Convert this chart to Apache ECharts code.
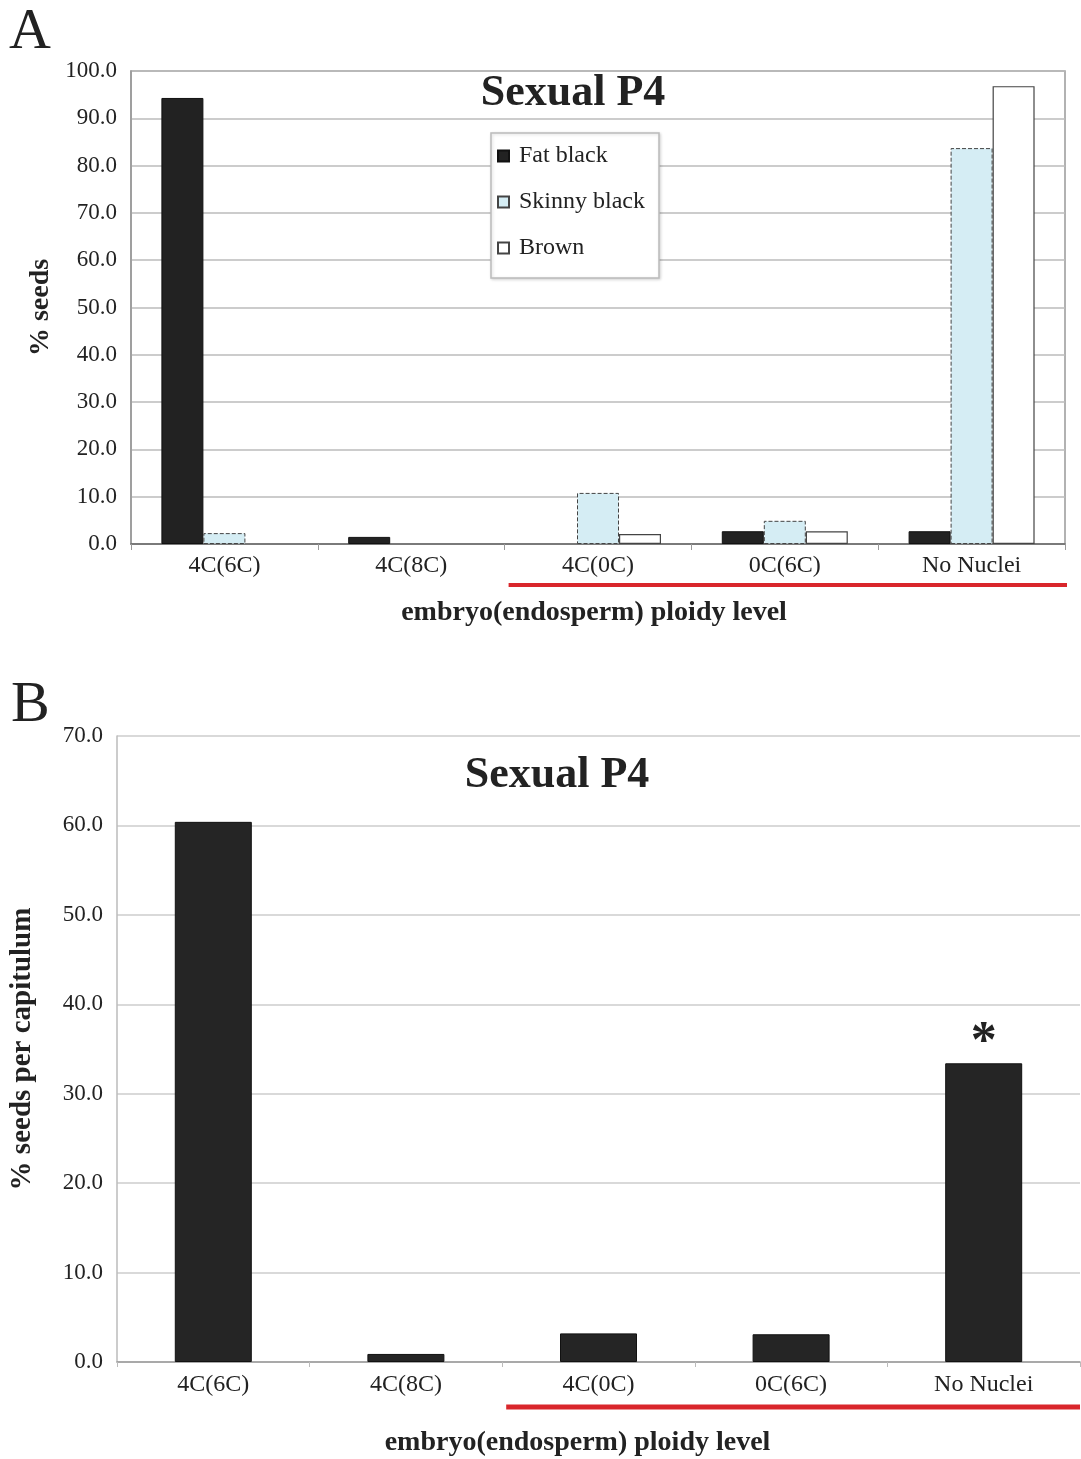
<!DOCTYPE html>
<html>
<head>
<meta charset="utf-8">
<script src="https://cdn.jsdelivr.net/npm/echarts@6/dist/echarts.min.js"></script>
<style>
  html, body { margin: 0; padding: 0; background: #fff; }
  #main { width: 1081px; height: 1459px; }
</style>
</head>
<body>
<div id="main"></div>
<script>
// categories shared by both panels
var categories = ['4C(6C)', '4C(8C)', '4C(0C)', '0C(6C)', 'No Nuclei'];
// panel A: % seeds by seed type
var fatBlack = [94.3, 1.5, 0, 2.7, 2.7];
var skinnyBlack = [2.3, 0, 10.8, 4.9, 83.7];
var brown = [0, 0, 2.1, 2.7, 96.8];
// panel B: % seeds per capitulum
var perCapitulum = [60.4, 0.9, 3.2, 3.1, 33.4];
var starIndex = 4;

var serif = '"Liberation Serif", "DejaVu Serif", serif';

function nz(arr) {
  return arr.map(function (v) { return v === 0 ? '-' : v; });
}

var myChart = echarts.init(document.getElementById('main'));
var option = {
  backgroundColor: '#fff',
  animation: false,
  title: [
    { text: 'Sexual P4', left: 573, top: 72, textAlign: 'center', padding: 0,
      textStyle: { fontFamily: serif, fontSize: 44, fontWeight: 'bold', color: '#222' } },
    { text: 'Sexual P4', left: 557, top: 754, textAlign: 'center', padding: 0,
      textStyle: { fontFamily: serif, fontSize: 44, fontWeight: 'bold', color: '#222' } },
    { text: 'A', left: 9, top: 4, padding: 0,
      textStyle: { fontFamily: serif, fontSize: 58, fontWeight: 'normal', color: '#222' } },
    { text: 'B', left: 11, top: 677, padding: 0,
      textStyle: { fontFamily: serif, fontSize: 58, fontWeight: 'normal', color: '#222' } }
  ],
  legend: {
    data: ['Fat black', 'Skinny black', 'Brown'],
    orient: 'vertical',
    left: 491,
    top: 133,
    padding: [11, 14, 18, 6],
    itemGap: 22,
    itemWidth: 11,
    itemHeight: 11,
    icon: 'rect',
    backgroundColor: '#fff',
    borderColor: '#bbb',
    borderWidth: 1.5,
    shadowColor: 'rgba(0,0,0,0.15)',
    shadowBlur: 3,
    shadowOffsetX: 1,
    shadowOffsetY: 1,
    textStyle: { fontFamily: serif, fontSize: 24, color: '#222', padding: [0, 0, 0, 5] }
  },
  grid: [
    { left: 131, top: 71, right: 16, bottom: 915, show: true, borderColor: '#999', borderWidth: 1.5,
      outerBoundsMode: 'none' },
    { left: 117, top: 736, right: 1, bottom: 97, outerBoundsMode: 'none' }
  ],
  xAxis: [
    {
      gridIndex: 0, type: 'category', data: categories,
      axisLine: { lineStyle: { color: '#666', width: 1.5 } },
      axisTick: { show: true, length: 6, lineStyle: { color: '#999' } },
      axisLabel: { fontFamily: serif, fontSize: 24, color: '#222', margin: 10 },
      name: 'embryo(endosperm) ploidy level', nameLocation: 'middle', nameGap: 55,
      nameTextStyle: { fontFamily: serif, fontSize: 28, fontWeight: 'bold', color: '#222', padding: [0, 8, 0, 0] }
    },
    {
      gridIndex: 1, type: 'category', data: categories,
      axisLine: { lineStyle: { color: '#999', width: 1.5 } },
      axisTick: { show: true, length: 5, lineStyle: { color: '#bbb' } },
      axisLabel: { fontFamily: serif, fontSize: 24, color: '#222', margin: 11 },
      name: 'embryo(endosperm) ploidy level', nameLocation: 'middle', nameGap: 67,
      nameTextStyle: { fontFamily: serif, fontSize: 28, fontWeight: 'bold', color: '#222', padding: [0, 42, 0, 0] }
    }
  ],
  yAxis: [
    {
      gridIndex: 0, type: 'value', min: 0, max: 100, interval: 10,
      axisLine: { show: true, lineStyle: { color: '#999', width: 1.5 } },
      axisTick: { show: false },
      splitLine: { lineStyle: { color: '#bbb', width: 1.5 } },
      axisLabel: { fontFamily: serif, fontSize: 23, color: '#222', margin: 14,
        formatter: function (v) { return v.toFixed(1); } },
      name: '% seeds', nameLocation: 'middle', nameGap: 73,
      nameTextStyle: { fontFamily: serif, fontSize: 28, fontWeight: 'bold', color: '#222' }
    },
    {
      gridIndex: 1, type: 'value', min: 0, max: 70, interval: 10,
      axisLine: { show: true, lineStyle: { color: '#bbb', width: 1.5 } },
      axisTick: { show: false },
      splitLine: { lineStyle: { color: '#ccc', width: 1.5 } },
      axisLabel: { fontFamily: serif, fontSize: 23, color: '#222', margin: 14,
        formatter: function (v) { return v.toFixed(1); } },
      name: '% seeds per capitulum', nameLocation: 'middle', nameGap: 80,
      nameTextStyle: { fontFamily: serif, fontSize: 29, fontWeight: 'bold', color: '#222' }
    }
  ],
  series: [
    {
      name: 'Fat black', type: 'bar', xAxisIndex: 0, yAxisIndex: 0,
      data: nz(fatBlack), barWidth: 42, barGap: '0%',
      itemStyle: { color: '#222', borderColor: '#111', borderWidth: 1 }
    },
    {
      name: 'Skinny black', type: 'bar', xAxisIndex: 0, yAxisIndex: 0,
      data: nz(skinnyBlack), barWidth: 42, barGap: '0%',
      itemStyle: { color: '#d5edf4', borderColor: '#444', borderWidth: 1, borderType: 'dashed' }
    },
    {
      name: 'Brown', type: 'bar', xAxisIndex: 0, yAxisIndex: 0,
      data: nz(brown), barWidth: 42, barGap: '0%',
      itemStyle: { color: '#fff', borderColor: '#444', borderWidth: 1.2 }
    },
    {
      name: 'per capitulum', type: 'bar', xAxisIndex: 1, yAxisIndex: 1,
      data: perCapitulum.map(function (v, i) {
        return i === starIndex ? {
          value: v,
          label: { show: true, position: 'top', formatter: '*', distance: -6,
            fontFamily: serif, fontSize: 52, fontWeight: 'bold', color: '#222' }
        } : v;
      }),
      barWidth: 77,
      itemStyle: { color: '#252525', borderColor: '#111', borderWidth: 1 }
    }
  ]
};
myChart.setOption(option);

// red underline marking the last three categories
function redLine(xi, yi, endX) {
  var start = myChart.convertToPixel({ xAxisIndex: xi }, categories[1]);
  var next = myChart.convertToPixel({ xAxisIndex: xi }, categories[2]);
  var x0 = (start + next) / 2 + 4;
  var y0 = myChart.convertToPixel({ yAxisIndex: yi }, 0);
  return { x0: x0, y0: y0, x1: endX };
}
var a = redLine(0, 0, 1067);
var b = redLine(1, 1, 1080);
myChart.setOption({
  graphic: [
    { type: 'line', shape: { x1: a.x0, y1: a.y0 + 41, x2: a.x1, y2: a.y0 + 41 },
      style: { stroke: '#d9262b', lineWidth: 4 } },
    { type: 'line', shape: { x1: b.x0, y1: b.y0 + 45, x2: b.x1, y2: b.y0 + 45 },
      style: { stroke: '#d9262b', lineWidth: 5 } }
  ]
});
</script>
</body>
</html>
